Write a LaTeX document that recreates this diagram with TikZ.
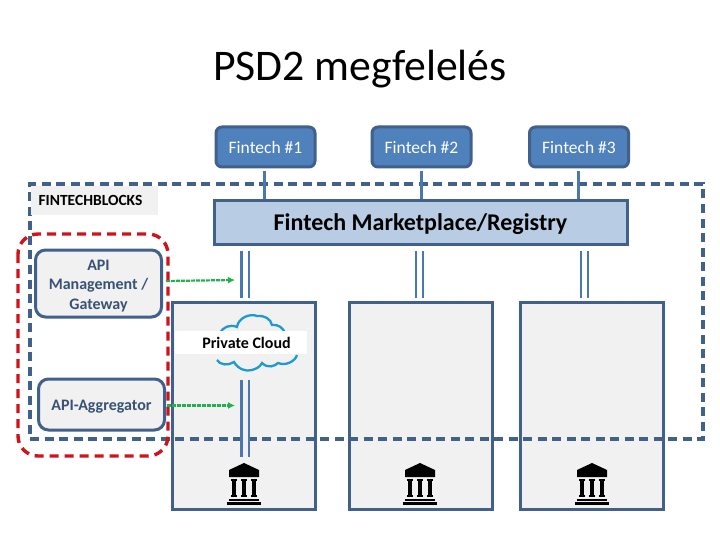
\documentclass[tikz,border=0pt]{standalone}
\usepackage{fontspec}
\setmainfont{Carlito}
\usetikzlibrary{arrows.meta}
\definecolor{frameblue}{HTML}{41608A}
\definecolor{fintechblue}{HTML}{4F81BD}
\definecolor{marketblue}{HTML}{B8CCE4}
\definecolor{linkblue}{HTML}{4A78AE}
\definecolor{panelgray}{HTML}{F1F1F1}
\definecolor{fencered}{HTML}{D0121B}
\definecolor{arrowgreen}{HTML}{22B14C}
\definecolor{cloudblue}{HTML}{1D9BD1}
\tikzset{
  fintechbox/.style={draw=frameblue,line width=3pt,fill=fintechblue,rounded corners=6pt,text=white,
    minimum width=99pt,minimum height=40pt,inner sep=0pt,font=\fontsize{17.5}{21}\selectfont},
  bankbox/.style={draw=frameblue,line width=3pt,fill=panelgray,minimum width=143pt,minimum height=207pt,inner sep=0pt},
  apibox/.style={draw=frameblue,line width=3pt,fill=panelgray,rounded corners=10pt,text=frameblue!85!black,
    minimum width=126pt,inner sep=0pt,align=center,font=\fontsize{16}{19.5}\selectfont\bfseries},
  onelink/.style={draw=linkblue,line width=2.6pt},
  twolink/.style={draw=linkblue,line width=2.4pt},
  greenlink/.style={draw=arrowgreen,line width=2.2pt,dash pattern=on 4pt off 1pt,-{Latex[length=7pt,width=7pt]}},
}
% bank icon, #1 is the x of its middle
\newcommand{\bankicon}[1]{
  \fill (#1-15,477) -- (#1-15,470) -- (#1,463) -- (#1+15,470) -- (#1+15,477) -- cycle;
  \foreach \dx in {-10,0,10} {
    \fill (#1+\dx-3,478.5) rectangle (#1+\dx+3,480.5);
    \fill (#1+\dx-2,480) rectangle (#1+\dx+2,495);
    \fill (#1+\dx-3,495) rectangle (#1+\dx+3,497);
  }
  \fill (#1-15,498.5) rectangle (#1+15,500.5);
  \fill (#1-17,501.5) rectangle (#1+17,504.5);
}
\begin{document}
\begin{tikzpicture}[x=1pt,y=-1pt]
\useasboundingbox (0,0) rectangle (720,540);
\node (title) at (360,69) {\fontsize{43.7}{52}\selectfont PSD2 megfelelés};
% banks
\node[bankbox] (bankA) at (244,406) {};
\node[bankbox] (bankB) at (421,406) {};
\node[bankbox] (bankC) at (592,406) {};
% cloud
\draw[draw=cloudblue,line width=2.3pt] (220,334) .. controls (222,327) and (230,324) .. (237,327)
  .. controls (238,318) and (250,313) .. (257,316) .. controls (264,315) and (271,319) .. (272,325)
  .. controls (278,324) and (284,328) .. (285,334);
\draw[draw=cloudblue,line width=2.3pt] (217,360) .. controls (220,365) and (228,366) .. (234,362)
  .. controls (238,369) and (246,372) .. (252,370) .. controls (256,369) and (260,367) .. (262,363)
  .. controls (268,369) and (275,366) .. (278,363) .. controls (285,366) and (295,362) .. (297,355);
\node[fill=white,minimum width=132pt,minimum height=23pt,inner sep=0pt,font=\fontsize{16}{19}\selectfont\bfseries] (cloudlabel) at (241,342.5) {\hspace{11pt}Private Cloud};
% fintechblocks frame
\node[draw=frameblue,line width=3.2pt,dash pattern=on 9pt off 5.5pt,minimum width=673pt,minimum height=255pt,inner sep=0pt] (blocks) at (366.5,311.5) {};
\node[fill=panelgray,minimum width=127pt,minimum height=29pt,inner sep=0pt,font=\fontsize{15.5}{18}\selectfont\bfseries] (blockslabel) at (94.5,200.5) {\hspace{-8pt}FINTECHBLOCKS};
% marketplace and fintechs
\node[draw=frameblue,line width=3pt,fill=marketblue,minimum width=413pt,minimum height=43pt,inner sep=0pt,font=\fontsize{24}{28}\selectfont\bfseries] (market) at (420.5,222.5) {\rule{0pt}{21pt}Fintech Marketplace/Registry};
\node[fintechbox] (fintechA) at (265.5,147) {Fintech \#1};
\node[fintechbox] (fintechB) at (421.5,147) {Fintech \#2};
\node[fintechbox] (fintechC) at (579,147) {Fintech \#3};
\coordinate (gapA) at (264.5,171);
\coordinate (gapB) at (421.5,171);
\coordinate (gapC) at (578.5,171);
\foreach \c in {A,B,C}
  \draw[onelink] (gap\c) -- (gap\c |- market.north);
% double lines
\foreach \xa/\xb in {241.5/249, 416/423, 581/588} {
  \draw[twolink] (\xa,251) -- (\xa,298);
  \draw[twolink] (\xb,251) -- (\xb,298);
}
\draw[twolink] (241.5,380) -- (241.5,457);
\draw[twolink] (249,380) -- (249,457);
% icons
\bankicon{244}
\bankicon{420}
\bankicon{592}
% api boxes
\node[apibox,minimum height=67pt] (gateway) at (98.5,283.5) {\rule{0pt}{15pt}API\\Management /\\Gateway};
\node[apibox,minimum height=51pt] (aggregator) at (101.5,404.5) {\rule{0pt}{15.5pt}API-Aggregator};
% red fence
\draw[draw=fencered,line width=3.4pt,dash pattern=on 9pt off 6pt,rounded corners=20pt] (18,234) rectangle (168,456);
% green arrows
\coordinate (gatewayend) at (235,280);
\coordinate (aggregatorend) at (235,405.5);
\draw[greenlink] (gateway.east |- gatewayend) ++(3,1) -- (gatewayend);
\draw[greenlink] (aggregator.east |- aggregatorend) ++(1,0) -- (aggregatorend);
\end{tikzpicture}
\end{document}
